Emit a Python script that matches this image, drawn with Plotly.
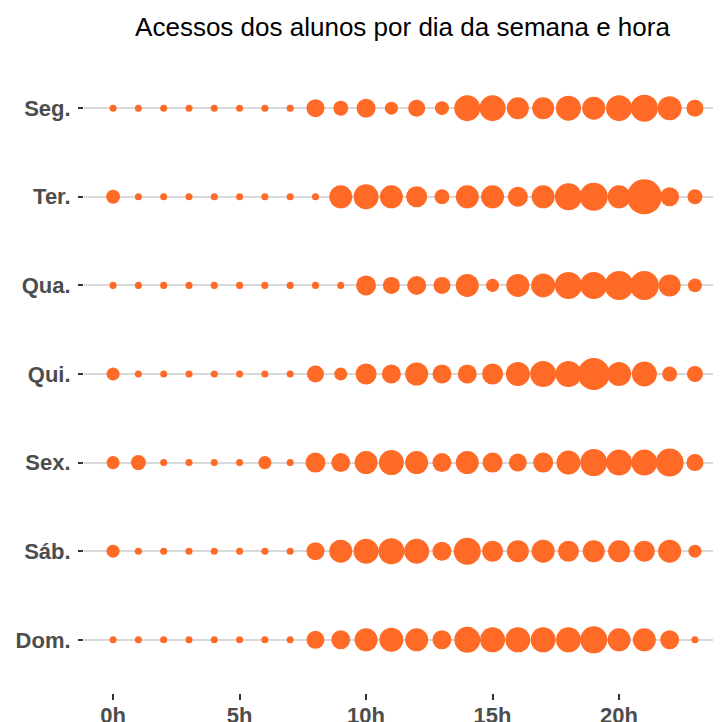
import plotly.graph_objects as go

days = ["Seg.", "Ter.", "Qua.", "Qui.", "Sex.", "Sáb.", "Dom."]
hours = list(range(24))
hour_ticks = [0, 5, 10, 15, 20]
hour_tick_labels = ["0h", "5h", "10h", "15h", "20h"]

# estimated number of accesses per hour (0h..23h) for each day
seg = [10, 10, 10, 10, 10, 10, 10, 10, 65, 45, 72, 34, 58, 39, 135, 135, 97, 97, 125, 106, 135, 146, 115, 58]
ter = [39, 10, 10, 10, 10, 10, 10, 10, 10, 106, 125, 106, 88, 45, 106, 106, 80, 106, 146, 157, 106, 245, 72, 45]
qua = [10, 10, 10, 10, 10, 10, 10, 10, 10, 10, 80, 58, 72, 58, 106, 34, 106, 115, 146, 146, 168, 168, 97, 39]
qui = [34, 10, 10, 10, 10, 10, 10, 10, 58, 34, 88, 72, 106, 72, 72, 88, 115, 135, 135, 205, 115, 125, 45, 51]
sex = [34, 45, 10, 10, 10, 10, 34, 10, 80, 72, 106, 125, 106, 72, 106, 80, 65, 80, 115, 146, 135, 135, 157, 58]
sab = [34, 10, 10, 10, 10, 10, 10, 10, 65, 106, 125, 135, 125, 72, 146, 88, 97, 106, 88, 97, 97, 88, 106, 34]
dom = [10, 10, 10, 10, 10, 10, 10, 10, 65, 72, 106, 115, 106, 72, 135, 125, 125, 125, 125, 146, 106, 106, 72, 10]

series = [seg, ter, qua, qui, sex, sab, dom]

xs, ys, vs = [], [], []
for d, vals in zip(days, series):
    for h, v in zip(hours, vals):
        xs.append(h)
        ys.append(d)
        vs.append(v)

max_d = 35
fig = go.Figure(go.Scatter(
    x=xs, y=ys, mode="markers",
    marker=dict(size=vs, sizemode="area", sizeref=2 * max(vs) / max_d ** 2,
                color="#FF6A27", line=dict(width=0), opacity=1),
    hovertemplate="%{y} %{x}h: %{marker.size}<extra></extra>",
))

fig.update_layout(
    width=713, height=714,
    margin=dict(l=76, r=0, t=47, b=29),
    paper_bgcolor="white", plot_bgcolor="white",
    showlegend=False,
    font=dict(family="Liberation Sans, Arial, sans-serif"),
    title=dict(text="Acessos dos alunos por dia da semana e hora",
               x=0.5, xref="paper", xanchor="center",
               y=1 - 10 / 714, yref="container", yanchor="top",
               font=dict(size=26, color="black")),
)
fig.update_xaxes(
    range=[-1.15, 24.03], tickvals=hour_ticks, ticktext=hour_tick_labels,
    showgrid=False, zeroline=False, showline=False, automargin=False,
    ticks="outside", ticklen=6, tickwidth=2, tickcolor="#333333",
    tickfont=dict(size=22, color="#4D4D4D", weight="bold"),
    ticklabelstandoff=-3,
)
fig.update_yaxes(
    categoryorder="array", categoryarray=days, range=[6.6, -0.6],
    showgrid=True, gridcolor="#D9D9D9", gridwidth=2, automargin=False,
    zeroline=False, showline=False,
    ticks="outside", ticklen=5, tickwidth=2, tickcolor="#333333",
    tickfont=dict(size=22, color="#4D4D4D", weight="bold"),
    ticklabelstandoff=3,
)

fig.write_html("out.html")
